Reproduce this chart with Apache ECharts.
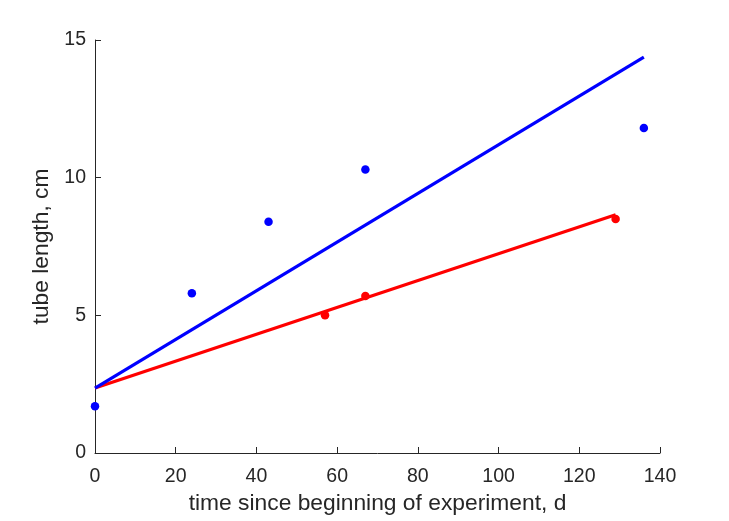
<!DOCTYPE html>
<html>
<head>
<meta charset="utf-8">
<script src="https://cdn.jsdelivr.net/npm/echarts@6/dist/echarts.min.js"></script>
<style>html,body{margin:0;padding:0;background:#fff;overflow:hidden}#c{width:729px;height:521px}</style>
</head>
<body>
<div id="c"></div>
<script>
const xTicks = [0, 20, 40, 60, 80, 100, 120, 140];
const yTicks = [0, 5, 10, 15];
const blueDays = [0, 24, 43, 67, 136];
const blueLen = [1.7, 5.8, 8.4, 10.3, 11.8];
const redDays = [57, 67, 129];
const redLen = [5.0, 5.7, 8.5];
const blueFitX = [0, 136];
const blueFitY = [2.36, 14.38];
const redFitX = [0, 129];
const redFitY = [2.36, 8.65];

const zip = (a, b) => a.map((v, i) => [v, b[i]]);
const font = 'Liberation Sans, Arial, Helvetica, sans-serif';
const axisColor = '#262626';

const chart = echarts.init(document.getElementById('c'), null, {renderer: 'canvas', width: 729, height: 521});
chart.setOption({
  animation: false,
  grid: {left: 95, right: 69, top: 40, bottom: 68, containLabel: false},
  xAxis: {
    type: 'value', min: xTicks[0], max: xTicks[xTicks.length - 1], interval: 20,
    name: 'time since beginning of experiment, d', nameLocation: 'middle', nameGap: 31,
    nameTextStyle: {fontFamily: font, fontSize: 22.8, color: axisColor, verticalAlign: 'top'},
    axisLine: {show: true, lineStyle: {color: axisColor, width: 1}},
    axisTick: {show: true, inside: true, length: 6, lineStyle: {color: axisColor}},
    axisLabel: {fontFamily: font, fontSize: 19.5, color: axisColor, margin: 14},
    splitLine: {show: false}
  },
  yAxis: {
    type: 'value', min: yTicks[0], max: yTicks[yTicks.length - 1], interval: 5,
    name: 'tube length, cm', nameLocation: 'middle', nameGap: 39,
    nameTextStyle: {fontFamily: font, fontSize: 22.8, color: axisColor},
    axisLine: {show: true, lineStyle: {color: axisColor, width: 1}},
    axisTick: {show: true, inside: true, length: 6, lineStyle: {color: axisColor}},
    axisLabel: {fontFamily: font, fontSize: 19.5, color: axisColor, margin: 9},
    splitLine: {show: false}
  },
  series: [
    {type: 'line', data: zip(redFitX, redFitY), showSymbol: false, symbol: 'none',
     lineStyle: {color: '#ff0000', width: 3.2}, z: 2},
    {type: 'line', data: zip(blueFitX, blueFitY), showSymbol: false, symbol: 'none',
     lineStyle: {color: '#0000ff', width: 3.2}, z: 3},
    {type: 'scatter', data: zip(blueDays, blueLen), symbol: 'circle', symbolSize: 8.5,
     itemStyle: {color: '#0000ff', opacity: 1}, z: 4},
    {type: 'scatter', data: zip(redDays, redLen), symbol: 'circle', symbolSize: 8.5,
     itemStyle: {color: '#ff0000', opacity: 1}, z: 5}
  ]
});
</script>
</body>
</html>
